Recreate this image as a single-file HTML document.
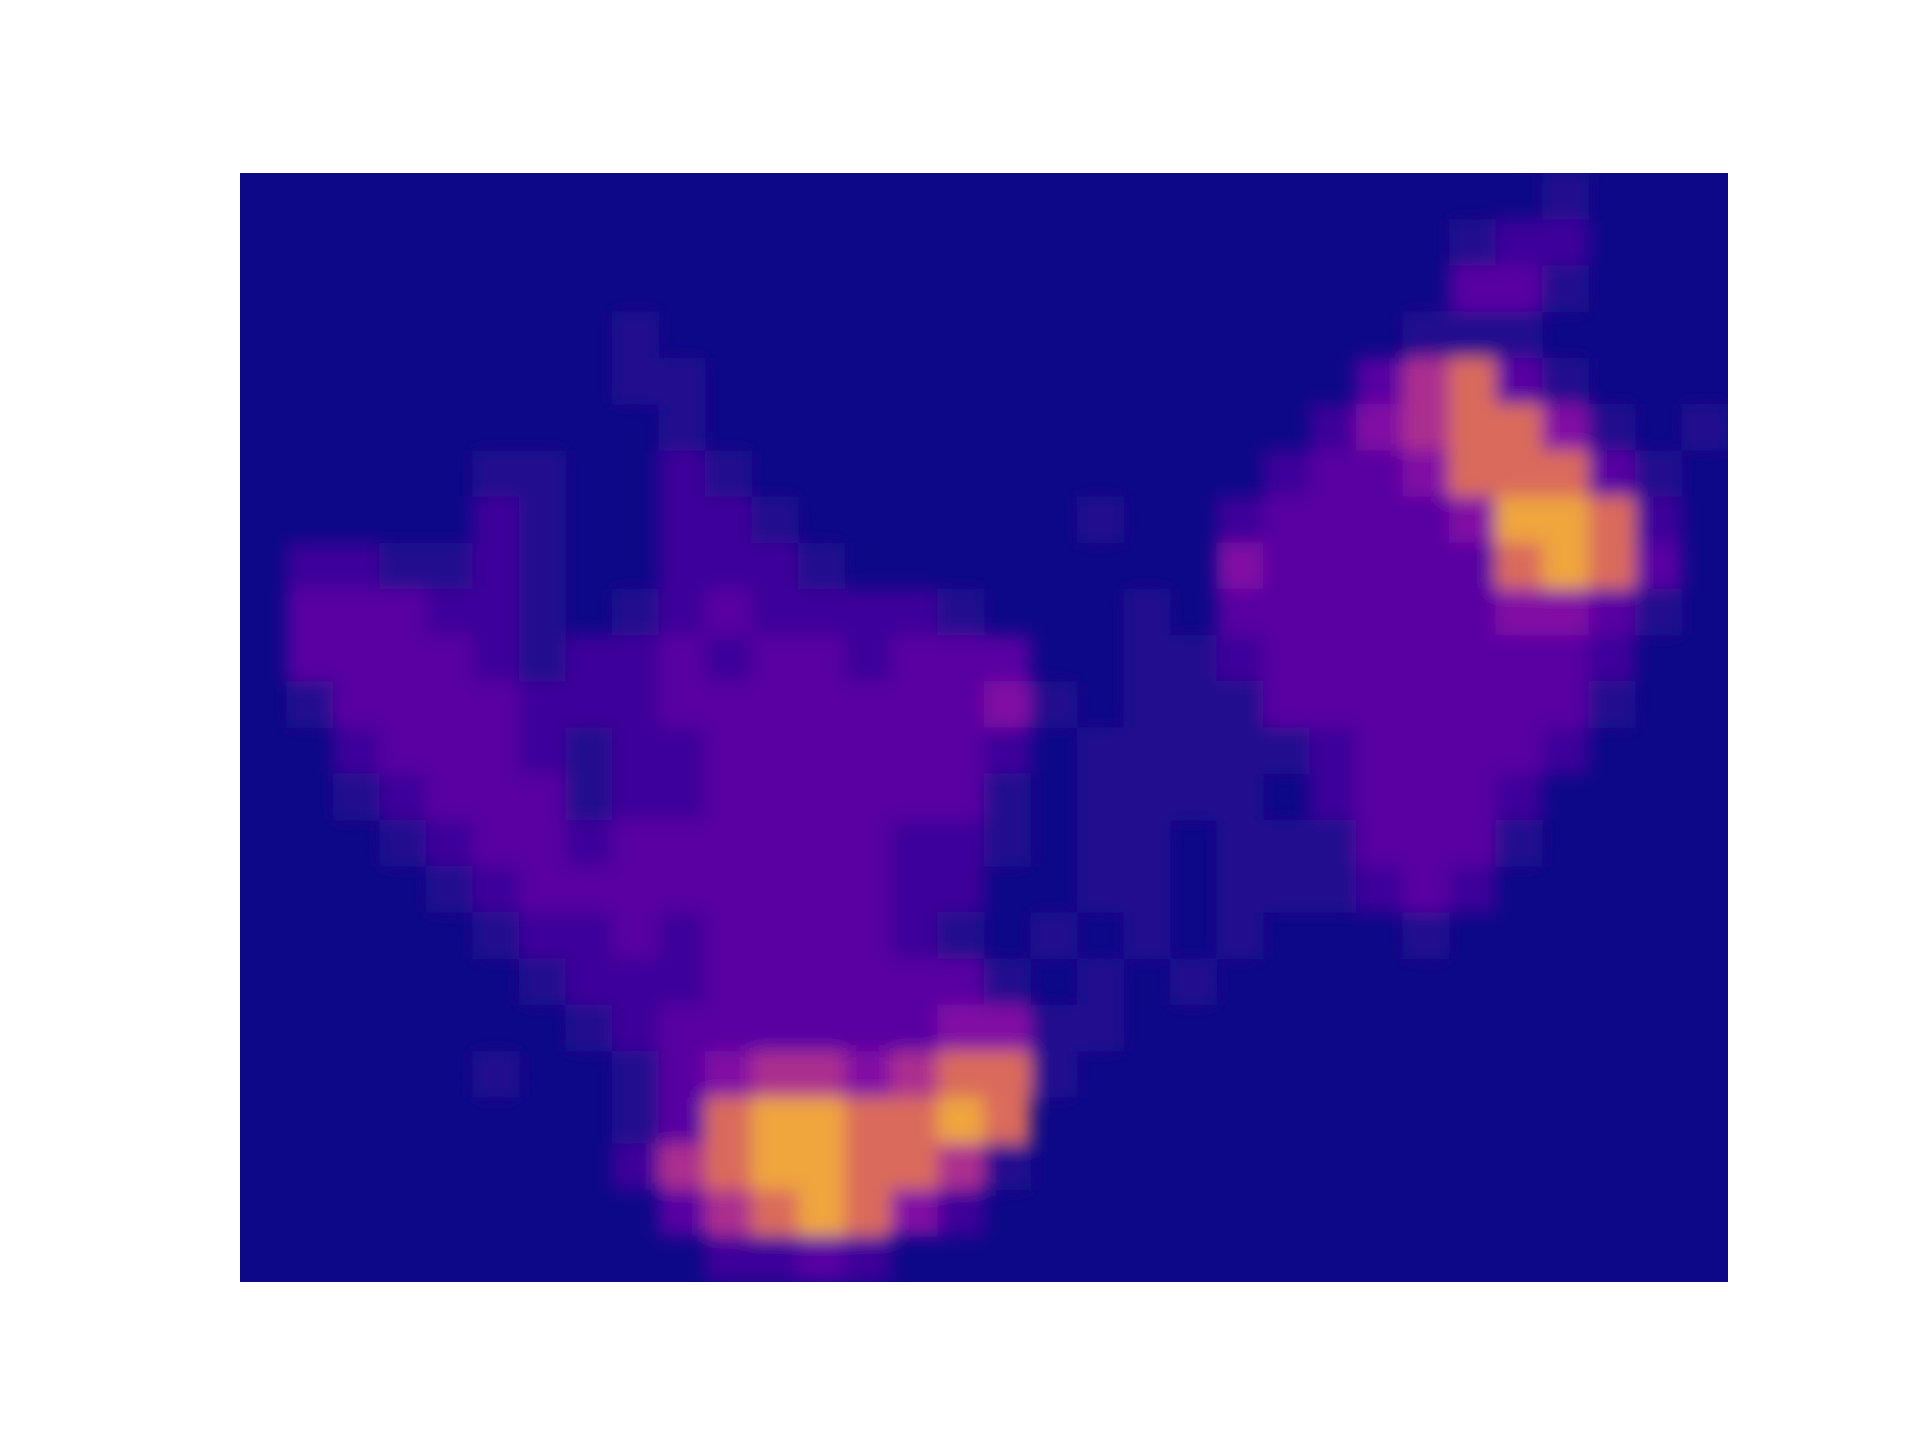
<!DOCTYPE html>
<html><head><meta charset="utf-8"><style>html,body{margin:0;padding:0;background:#fff;}svg{display:block;}</style></head>
<body>
<svg id="chart" width="1920" height="1440" xmlns="http://www.w3.org/2000/svg">
<defs>
<clipPath id="axclip"><rect x="240" y="173" width="1488" height="1109"/></clipPath>
<filter id="soft" x="-10%" y="-10%" width="120%" height="120%"><feGaussianBlur stdDeviation="9"/></filter>
</defs>
<rect x="240" y="173" width="1488" height="1109" fill="#0d0887"/>
<g id="cells" clip-path="url(#axclip)" filter="url(#soft)"></g>
</svg>
<script>
const nCols = 32;
const nRows = 24;
// sparse rows: "col:level" pairs, level 0..8
const rowData = [
"28:1",
"26:1 27:2 28:2",
"26:3 27:3 28:1",
"8:1 25:1 26:1 27:1",
"8:1 9:1 24:3 25:5 26:6 27:3 28:1",
"9:1 23:2 24:4 25:5 26:6 27:6 28:4 29:1 31:1",
"5:1 6:1 9:2 10:1 22:2 23:3 24:3 25:4 26:6 27:6 28:6 29:3 30:1",
"5:2 6:1 9:2 10:2 11:1 18:1 21:2 22:3 23:3 24:3 25:3 26:4 27:7 28:7 29:6 30:2",
"1:2 2:2 3:1 4:1 5:2 6:1 9:2 10:2 11:2 12:1 21:4 22:3 23:3 24:3 25:3 26:3 27:6 28:7 29:6 30:3",
"1:3 2:3 3:3 4:2 5:2 6:1 8:1 9:2 10:3 11:2 12:2 13:2 14:2 15:1 19:1 21:3 22:3 23:3 24:3 25:3 26:3 27:4 28:4 29:3 30:1",
"1:3 2:3 3:3 4:3 5:2 6:1 7:2 8:2 9:3 10:2 11:3 12:3 13:2 14:3 15:3 16:3 19:1 20:1 21:2 22:3 23:3 24:3 25:3 26:3 27:3 28:3 29:2",
"1:1 2:3 3:3 4:3 5:3 6:2 7:2 8:2 9:3 10:3 11:3 12:3 13:3 14:3 15:3 16:4 17:1 19:1 20:1 21:1 22:3 23:3 24:3 25:3 26:3 27:3 28:3 29:1",
"2:2 3:3 4:3 5:3 6:2 7:1 8:2 9:2 10:3 11:3 12:3 13:3 14:3 15:3 16:2 18:1 19:1 20:1 21:1 22:1 23:2 24:3 25:3 26:3 27:3 28:2",
"2:1 3:2 4:3 5:3 6:3 7:1 8:2 9:2 10:3 11:3 12:3 13:3 14:3 15:3 16:1 18:1 19:1 20:1 21:1 23:2 24:3 25:3 26:3 27:2",
"3:1 4:2 5:3 6:3 7:2 8:3 9:3 10:3 11:3 12:3 13:3 14:2 15:2 16:1 18:1 19:1 21:1 22:1 23:1 24:3 25:3 26:3 27:1",
"4:1 5:2 6:3 7:3 8:3 9:3 10:3 11:3 12:3 13:3 14:2 15:2 18:1 19:1 21:1 22:1 23:1 24:2 25:3 26:2",
"5:1 6:2 7:2 8:3 9:2 10:3 11:3 12:3 13:3 14:2 15:1 17:1 19:1 21:1 25:1",
"6:1 7:2 8:2 9:2 10:3 11:3 12:3 13:3 14:3 15:3 16:1 18:1 20:1",
"7:1 8:2 9:3 10:3 11:3 12:3 13:3 14:3 15:4 16:4 17:1 18:1",
"5:1 8:1 9:3 10:4 11:5 12:5 13:4 14:5 15:6 16:6 17:1",
"8:1 9:3 10:6 11:7 12:7 13:6 14:6 15:7 16:6",
"8:2 9:5 10:6 11:7 12:7 13:6 14:6 15:5 16:1",
"9:3 10:5 11:6 12:7 13:6 14:4 15:2",
"10:2 11:2 12:3 13:2"
];
const levelColors = ["#0d0887","#220a8e","#3c069a","#5803a2","#820fa4","#ac2d8f","#da6a5c","#f0a53c","#fbd524"];

const ax = {x0:240, y0:173, w:1488, h:1109};
const cw = ax.w / nCols, ch = ax.h / nRows;
function xPos(c){ return ax.x0 + c * cw; }
function yPos(r){ return ax.y0 + r * ch; }
const g = document.getElementById('cells');
const NS = "http://www.w3.org/2000/svg";
rowData.forEach((row, r) => {
  row.trim().split(/\s+/).forEach(pair => {
    if (!pair) return;
    const [c, v] = pair.split(':').map(Number);
    if (!v) return;
    const rect = document.createElementNS(NS, 'rect');
    rect.setAttribute('x', xPos(c));
    rect.setAttribute('y', yPos(r));
    rect.setAttribute('width', cw + 0.5);
    rect.setAttribute('height', ch + 0.5);
    rect.setAttribute('fill', levelColors[v]);
    
    
    g.appendChild(rect);
  });
});
</script>
</body></html>
